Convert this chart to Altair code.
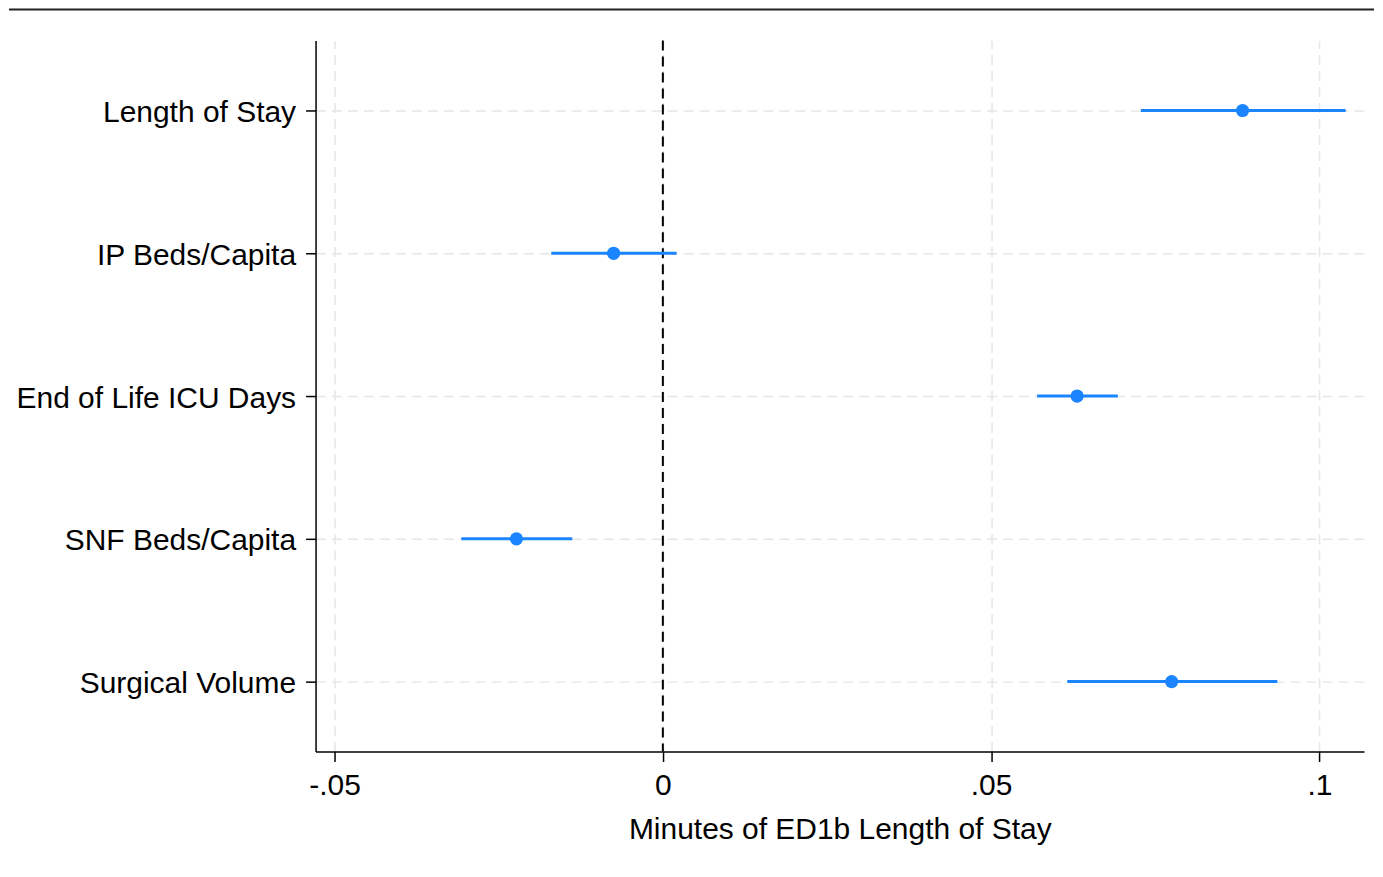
import altair as alt
import pandas as pd

categories = ["Length of Stay", "IP Beds/Capita", "End of Life ICU Days",
              "SNF Beds/Capita", "Surgical Volume"]
estimates = [0.0883, -0.0075, 0.0631, -0.0223, 0.0775]
lower = [0.0728, -0.0170, 0.0570, -0.0307, 0.0616]
upper = [0.1040, 0.0021, 0.0693, -0.0138, 0.0936]

tick_values = [-0.05, 0, 0.05, 0.1]
tick_labels = ["-.05", "0", ".05", ".1"]
x_title = "Minutes of ED1b Length of Stay"

df = pd.DataFrame({"cat": categories, "est": estimates, "lo": lower, "hi": upper})

FONT = "Liberation Sans"
BLUE = "#1a85ff"

label_expr = " : ".join(
    f"abs(datum.value - ({v})) < 1e-6 ? '{l}'" for v, l in zip(tick_values, tick_labels)
) + " : ''"

x_scale = alt.Scale(domain=[-0.0529, 0.1068], nice=False, zero=False)
y_scale = alt.Scale(type="point", padding=0.49)

x_axis = alt.Axis(
    values=tick_values, labelExpr=label_expr, title=x_title,
    grid=True, gridColor="#e6e6e6", gridDash=[10, 6], gridWidth=1.5,
    domainColor="black", domainWidth=1.5, tickColor="black", tickWidth=1.5,
    tickSize=10, labelPadding=9, titlePadding=14,
    labelFont=FONT, labelFontSize=30, labelColor="black",
    titleFont=FONT, titleFontSize=30, titleColor="black", titleFontWeight="normal",
)
y_axis = alt.Axis(
    title=None, grid=True, gridColor="#e6e6e6", gridDash=[10, 6], gridWidth=1.5,
    domainColor="black", domainWidth=1.5, tickColor="black", tickWidth=1.5,
    tickSize=10, labelPadding=10, labelOffset=2,
    labelFont=FONT, labelFontSize=30, labelColor="black", labelLimit=400,
)

base = alt.Chart(df)

bars = base.mark_rule(color=BLUE, strokeWidth=3).encode(
    x=alt.X("lo:Q", scale=x_scale, axis=x_axis),
    x2="hi:Q",
    y=alt.Y("cat:N", sort=categories, scale=y_scale, axis=y_axis),
)

zero = alt.Chart(pd.DataFrame({"z": [0]})).mark_rule(
    color="black", strokeWidth=2, strokeDash=[10, 6]
).encode(x=alt.X("z:Q", scale=x_scale))

points = base.mark_circle(color=BLUE, size=175, opacity=1).encode(
    x=alt.X("est:Q", scale=x_scale),
    y=alt.Y("cat:N", sort=categories, scale=y_scale),
)

topline = alt.Chart(pd.DataFrame({"a": [0]})).mark_rule(
    color="#222222", strokeWidth=2
).encode(x=alt.value(-307), x2=alt.value(1060), y=alt.value(-31))

chart = alt.layer(zero, bars, points, topline).properties(
    width=1050, height=712, padding=0
).configure(
    background="white", view=alt.ViewConfig(stroke=None)
)

chart.save("out.html", embed_options={"renderer": "svg", "actions": False})
